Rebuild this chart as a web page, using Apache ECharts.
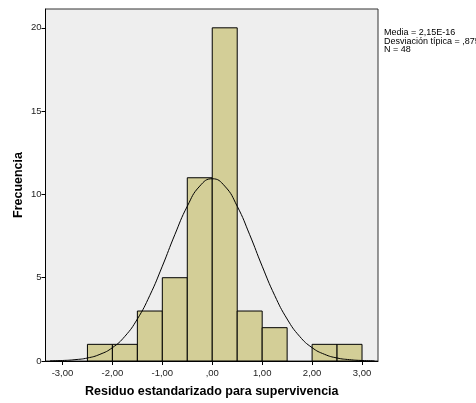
<!DOCTYPE html>
<html><head><meta charset="utf-8">
<script src="https://cdn.jsdelivr.net/npm/echarts@6/dist/echarts.min.js"></script>
<style>html,body{margin:0;padding:0;background:#fff}#c{width:476px;height:403px}</style>
</head><body><div id="c"></div>
<script>
// Histogram bins (lower edge, upper edge) and frequencies
const binStart = [-2.5, -2.0, -1.5, -1.0, -0.5, 0.0, 0.5, 1.0, 1.5, 2.0, 2.5];
const binEnd   = [-2.0, -1.5, -1.0, -0.5, 0.0, 0.5, 1.0, 1.5, 2.0, 2.5, 3.0];
const counts   = [1, 1, 3, 5, 11, 20, 3, 2, 0, 1, 1];
// Normal curve
const curveX = [-3.25,-3.0,-2.75,-2.5,-2.25,-2.0,-1.75,-1.5,-1.25,-1.0,-0.75,-0.5,-0.25,0,0.25,0.5,0.75,1.0,1.25,1.5,1.75,2.0,2.25,2.5,2.75,3.0,3.25];
const curveY = [0.01,0.03,0.08,0.18,0.40,0.80,1.48,2.52,3.94,5.69,7.58,9.29,10.50,10.94,10.50,9.29,7.58,5.69,3.94,2.52,1.48,0.80,0.40,0.18,0.08,0.03,0.01];
const xTicks = [-3, -2, -1, 0, 1, 2, 3];
const xTickLabels = ['-3,00', '-2,00', '-1,00', ',00', '1,00', '2,00', '3,00'];
const yTicks = [0, 5, 10, 15, 20];
const statsLines = ['Media = 2,15E-16', 'Desviación típica = ,875', 'N = 48'];

const chart = echarts.init(document.getElementById('c'), null, {renderer: 'canvas'});
const barData = binStart.map((s, i) => [s, binEnd[i], counts[i]]);
const font = 'Liberation Sans, Arial, sans-serif';

chart.setOption({
  animation: false,
  backgroundColor: '#ffffff',
  grid: {left: 45.5, top: 9, right: 98, bottom: 40, show: true,
         backgroundColor: '#eeeeee', borderColor: '#333333', borderWidth: 1},
  xAxis: {
    type: 'value', min: -3.34, max: 3.32,
    name: 'Residuo estandarizado para supervivencia',
    nameLocation: 'middle', nameGap: 24, nameMoveOverlap: false,
    nameTextStyle: {fontFamily: font, fontSize: 12.5, fontWeight: 'bold', color: '#000'},
    axisLine: {show: true, onZero: false, lineStyle: {color: '#000', width: 1}},
    axisTick: {show: true, length: 4, customValues: xTicks, lineStyle: {color: '#000'}},
    axisLabel: {customValues: xTicks, fontFamily: font, fontSize: 9.5, color: '#222', margin: 7,
      formatter: v => { const i = xTicks.indexOf(Math.round(v)); return i >= 0 ? xTickLabels[i] : ''; }},
    splitLine: {show: false}
  },
  yAxis: {
    type: 'value', min: 0, max: 21.13,
    name: 'Frecuencia', nameLocation: 'middle', nameGap: 20, nameRotate: 90, nameMoveOverlap: false,
    nameTextStyle: {fontFamily: font, fontSize: 12.5, fontWeight: 'bold', color: '#000'},
    axisLine: {show: true, onZero: false, lineStyle: {color: '#000', width: 1}},
    axisTick: {show: true, length: 4, customValues: yTicks, lineStyle: {color: '#000'}},
    axisLabel: {customValues: yTicks, fontFamily: font, fontSize: 9.5, color: '#222', margin: 4},
    splitLine: {show: false}
  },
  series: [
    {
      type: 'custom',
      data: barData,
      encode: {x: [0, 1], y: 2},
      renderItem: function (params, api) {
        const p0 = api.coord([api.value(0), 0]);
        const p1 = api.coord([api.value(1), api.value(2)]);
        if (api.value(2) <= 0) return null;
        return {
          type: 'rect',
          shape: {x: p0[0], y: p1[1], width: p1[0] - p0[0], height: p0[1] - p1[1]},
          style: {fill: '#d3ce97', stroke: '#000', lineWidth: 1}
        };
      },
      z: 2
    },
    {
      type: 'line',
      data: curveX.map((x, i) => [x, curveY[i]]),
      smooth: true, showSymbol: false, symbol: 'none',
      lineStyle: {color: '#000', width: 1},
      z: 3
    }
  ],
  graphic: statsLines.map((t, i) => ({
    type: 'text', left: 384, top: 28.5 + i * 8.2,
    style: {text: t, fontFamily: font, fontSize: 9, fill: '#000'}
  }))
});
</script></body></html>
